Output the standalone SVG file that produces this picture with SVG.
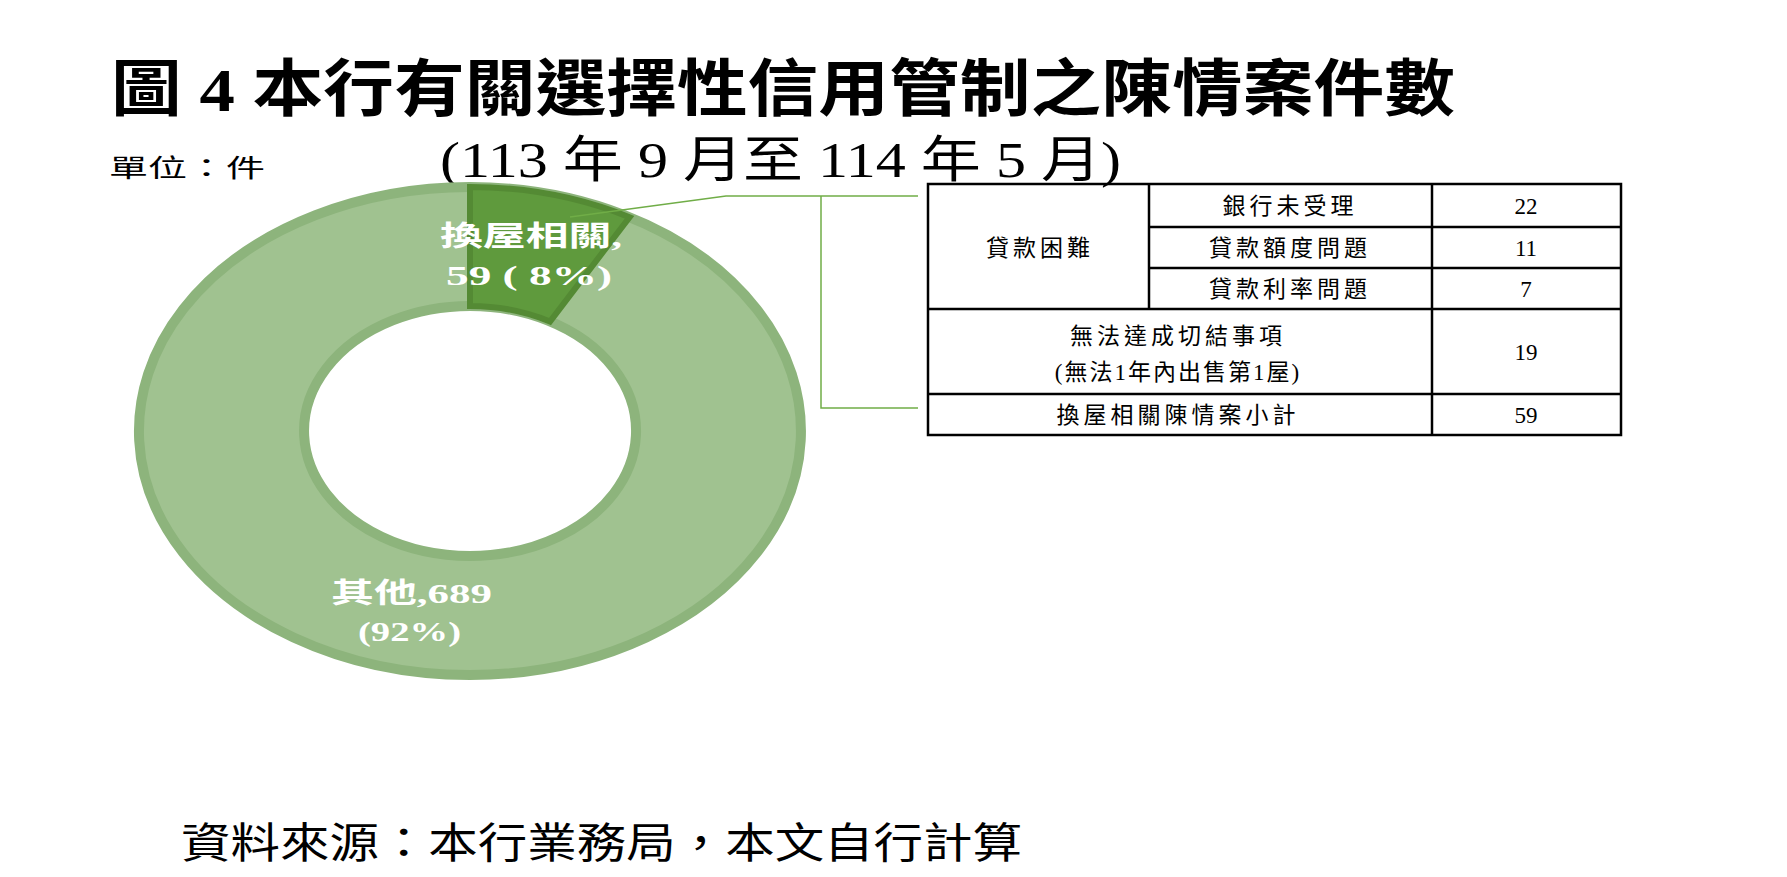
<svg xmlns="http://www.w3.org/2000/svg" width="1787" height="877" viewBox="0 0 1787 877">
<style>
.cjk{font-family:"Liberation Serif","Noto Sans CJK TC",serif;fill:#000}
.t{font-size:23px;text-anchor:middle}
.w{font-family:"Liberation Serif","Noto Sans CJK TC",serif;fill:#fff;font-weight:bold;font-size:28px}
.cell{fill:none;stroke:#000;stroke-width:2.5}
.lead{fill:none;stroke:#70ad47;stroke-width:1.5}
</style>
<rect width="1787" height="877" fill="#fff"/>
<g id="title">
<text class="cjk" x="111" y="111" font-size="62" font-weight="bold" textLength="1344" lengthAdjust="spacingAndGlyphs">圖 4  本行有關選擇性信用管制之陳情案件數</text>
<text class="cjk" x="440" y="177" font-size="50" textLength="681" lengthAdjust="spacingAndGlyphs">(113 年 9 月至 114 年 5 月)</text>
<text class="cjk" x="109" y="177" font-size="25" textLength="156" lengthAdjust="spacingAndGlyphs">單位：件</text>
</g>
<g id="donut">
<path d="M470,187 A331,244 0 1,1 469.9,187 Z M470,306 A166,125 0 1,0 470.1,306 Z" fill="#a0c290" fill-rule="evenodd" stroke="#8db47c" stroke-width="10"/>
<path d="M470,187 A331,244 0 0,1 629.5,217.2 L550,321.5 A166,125 0 0,0 470,306 Z" fill="#5f9a3d" stroke="#548a34" stroke-width="6"/>
<text class="w" x="440" y="246" textLength="182" lengthAdjust="spacingAndGlyphs">換屋相關,</text>
<text class="w" x="446" y="285" textLength="166" lengthAdjust="spacingAndGlyphs">59  ( 8%)</text>
<text class="w" x="331" y="603" textLength="161" lengthAdjust="spacingAndGlyphs">其他,689</text>
<text class="w" x="358" y="641" textLength="103" lengthAdjust="spacingAndGlyphs">(92%)</text>
</g>
<g id="connectors">
<polyline class="lead" points="570,217 726,196 918,196"/>
<polyline class="lead" points="821,196 821,408 918,408"/>
</g>
<g id="table">
<rect class="cell" x="928" y="184" width="693" height="251"/>
<line class="cell" x1="1149" y1="184" x2="1149" y2="309"/>
<line class="cell" x1="1432" y1="184" x2="1432" y2="435"/>
<line class="cell" x1="1149" y1="227" x2="1621" y2="227"/>
<line class="cell" x1="1149" y1="268" x2="1621" y2="268"/>
<line class="cell" x1="928" y1="309" x2="1621" y2="309"/>
<line class="cell" x1="928" y1="394" x2="1621" y2="394"/>
<g class="cjk t">
<text x="1040" y="256" letter-spacing="4">貸款困難</text>
<text x="1290" y="214" letter-spacing="4">銀行未受理</text>
<text x="1290" y="256" letter-spacing="4">貸款額度問題</text>
<text x="1290" y="297" letter-spacing="4">貸款利率問題</text>
<text x="1178" y="344" letter-spacing="4">無法達成切結事項</text>
<text x="1178" y="380" letter-spacing="2">(無法1年內出售第1屋)</text>
<text x="1178" y="423" letter-spacing="4">換屋相關陳情案小計</text>
<text x="1526" y="214">22</text>
<text x="1526" y="256">11</text>
<text x="1526" y="297">7</text>
<text x="1526" y="360">19</text>
<text x="1526" y="423">59</text>
</g>
</g>
<text class="cjk" x="181" y="858" font-size="42" textLength="841" lengthAdjust="spacingAndGlyphs">資料來源：本行業務局，本文自行計算</text>
</svg>
